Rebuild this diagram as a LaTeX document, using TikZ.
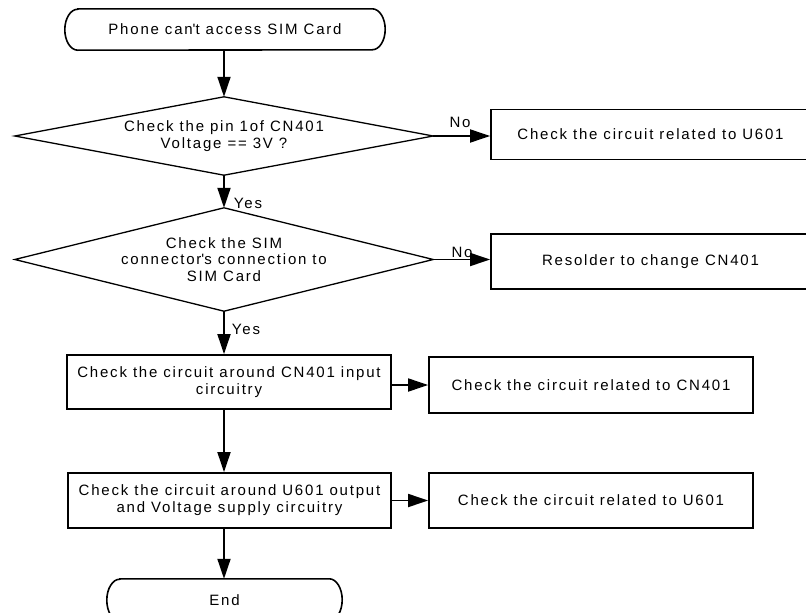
\documentclass[tikz,border=0pt]{standalone}
\usepackage{fontspec}
\setmainfont{Liberation Sans}[LetterSpace=12]
\usetikzlibrary{arrows.meta,calc}
\begin{document}
\begin{tikzpicture}[x=1pt,y=-1pt,
  txt/.style={font=\fontsize{15}{16.8}\selectfont, align=center, inner sep=0pt},
  boxn/.style={txt, draw, line width=1.8pt},
  termline/.style={line width=1.6pt},
  diam/.style={line width=1.3pt},
  conn/.style={line width=1.8pt, -{Triangle[length=20pt,width=13pt]}},
  lab/.style={txt}]
\useasboundingbox (0,0) rectangle (806,613);

% start terminal
\node[txt, minimum width=320pt, minimum height=41pt] (start) at (225,29.5) {Phone can\textquotesingle t access SIM Card};
\draw[termline] ([xshift=13pt]start.north west) -- ([xshift=-13pt]start.north east)
  arc[start angle=90, end angle=-90, x radius=13pt, y radius=20.5pt]
  -- ([xshift=13pt]start.south west)
  arc[start angle=270, end angle=90, x radius=13pt, y radius=20.5pt] -- cycle;

% decisions
\node[txt, minimum width=418pt, minimum height=78pt] (d1) at (224,136) {Check the pin 1of CN401\\Voltage == 3V ?};
\draw[diam] (d1.north) -- (d1.east) -- (d1.south) -- (d1.west) -- cycle;

\node[txt, minimum width=418pt, minimum height=103pt] (d2) at (224,259.5) {Check the SIM\\connector\textquotesingle s connection to\\SIM Card};
\draw[diam] (d2.north) -- (d2.east) -- (d2.south) -- (d2.west) -- cycle;

% boxes
\node[boxn, minimum width=319pt, minimum height=50pt] (b1) at (650.5,134.5) {Check the circuit related to U601};
\node[boxn, minimum width=319pt, minimum height=55pt] (b2) at (650.5,261.5) {Resolder to change CN401};
\node[boxn, minimum width=324pt, minimum height=54pt] (b3) at (229,382) {Check the circuit around CN401 input\\circuitry};
\node[boxn, minimum width=324pt, minimum height=56pt] (b4) at (591,385) {Check the circuit related to CN401};
\node[boxn, minimum width=323pt, minimum height=55pt] (b5) at (229.5,500.5) {Check the circuit around U601 output\\and Voltage supply circuitry};
\node[boxn, minimum width=324pt, minimum height=55pt] (b6) at (591,500.5) {Check the circuit related to U601};

% end terminal
\node[txt, minimum width=235pt, minimum height=42pt] (endt) at (224.5,600) {End};
\draw[termline] ([xshift=13pt]endt.north west) -- ([xshift=-13pt]endt.north east)
  arc[start angle=90, end angle=-90, x radius=13pt, y radius=21pt]
  -- ([xshift=13pt]endt.south west)
  arc[start angle=270, end angle=90, x radius=13pt, y radius=21pt] -- cycle;

% connectors
\draw[conn] (d1.north |- start.south) -- (d1.north);
\draw[conn] (d1.south) -- (d2.north);
\draw[conn] (d2.south) -- (d2.south |- b3.north);
\draw[conn] (d2.south |- b3.south) -- (d2.south |- b5.north);
\draw[conn] (d2.south |- b5.south) -- (d2.south |- endt.north);
\draw[conn] (d1.east) -- (d1.east -| b1.west);
\draw[conn] (d2.east) -- (d2.east -| b2.west);
\draw[conn] (b3.east |- b4.west) -- (b4.west);
\draw[conn] (b5.east |- b6.west) -- (b6.west);

% labels
\node[lab] (no1) at (460,122.5) {No};
\node[lab] (no2) at (462,252) {No};
\node[lab] (yes1) at (248,203) {Yes};
\node[lab] (yes2) at (246,329) {Yes};
\end{tikzpicture}
\end{document}
